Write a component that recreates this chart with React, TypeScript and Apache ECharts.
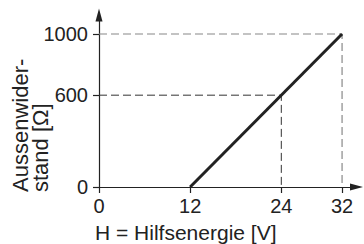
import React, { useEffect, useRef } from "react";
import * as echarts from "echarts";

const xTicks = [0, 12, 24, 32];
const yTicks = [0, 600, 1000];
const mainLine = [[12, 0], [32, 1000]];
const guide1000 = [[0, 1000], [32, 1000], [32, 0]];
const guide600 = [[0, 600], [24, 600], [24, 0]];
const xName = "H = Hilfsenergie [V]";
const yNameLines = ["Aussenwider-", "stand [Ω]"];

const FONT = "'Liberation Sans', Arial, Helvetica, sans-serif";
const INK = "#222";

export default function App() {
  const ref = useRef<HTMLDivElement>(null);
  useEffect(() => {
    if (!ref.current) return;
    const chart = echarts.init(ref.current, null, { renderer: "svg" });
    chart.setOption({
      animation: false,
      grid: { left: 99, right: 7.5, top: 15, bottom: 57, containLabel: false },
      xAxis: {
        type: "value",
        min: 0,
        max: 33.9,
        splitLine: { show: false },
        axisLine: {
          show: true,
          onZero: false,
          lineStyle: { color: INK, width: 1.2 },
          symbol: ["none", "triangle"],
          symbolSize: [7, 13],
        },
        axisTick: { show: true, length: 6, inside: false, customValues: xTicks, lineStyle: { color: INK, width: 1.2 } },
        axisLabel: { customValues: xTicks, margin: 9, fontSize: 20, fontFamily: FONT, color: INK, formatter: (v: number) => String(v) },
      },
      yAxis: {
        type: "value",
        min: 0,
        max: 1124,
        splitLine: { show: false },
        axisLine: {
          show: true,
          onZero: false,
          lineStyle: { color: INK, width: 1.2 },
          symbol: ["none", "triangle"],
          symbolSize: [7, 13],
        },
        axisTick: { show: true, length: 6, inside: false, customValues: yTicks, lineStyle: { color: INK, width: 1.2 } },
        axisLabel: { customValues: yTicks, margin: 11, fontSize: 20, fontFamily: FONT, color: INK, formatter: (v: number) => String(v) },
      },
      graphic: [
        {
          type: "text",
          x: 95,
          y: 232.5,
          style: { text: xName, font: `21px ${FONT}`, fill: INK, align: "left", verticalAlign: "middle" },
        },
        {
          type: "text",
          x: 20,
          y: 192,
          rotation: Math.PI / 2,
          style: { text: yNameLines[0], font: `22px ${FONT}`, fill: INK, align: "left", verticalAlign: "middle" },
        },
        {
          type: "text",
          x: 40,
          y: 192,
          rotation: Math.PI / 2,
          style: { text: yNameLines[1], font: `22px ${FONT}`, fill: INK, align: "left", verticalAlign: "middle" },
        },
      ],
      series: [
        {
          type: "line",
          data: guide1000,
          symbol: "none",
          lineStyle: { color: "#888", width: 1.2, type: [8, 4] },
          z: 1,
        },
        {
          type: "line",
          data: guide600,
          symbol: "none",
          lineStyle: { color: "#333", width: 1, type: [8, 4] },
          z: 1,
        },
        {
          type: "line",
          data: mainLine,
          symbol: "none",
          lineStyle: { color: INK, width: 3 },
          z: 3,
        },
      ],
    });
    return () => chart.dispose();
  }, []);
  return <div ref={ref} style={{ width: 364, height: 244, position: "absolute", left: 0, top: 0 }} />;
}
